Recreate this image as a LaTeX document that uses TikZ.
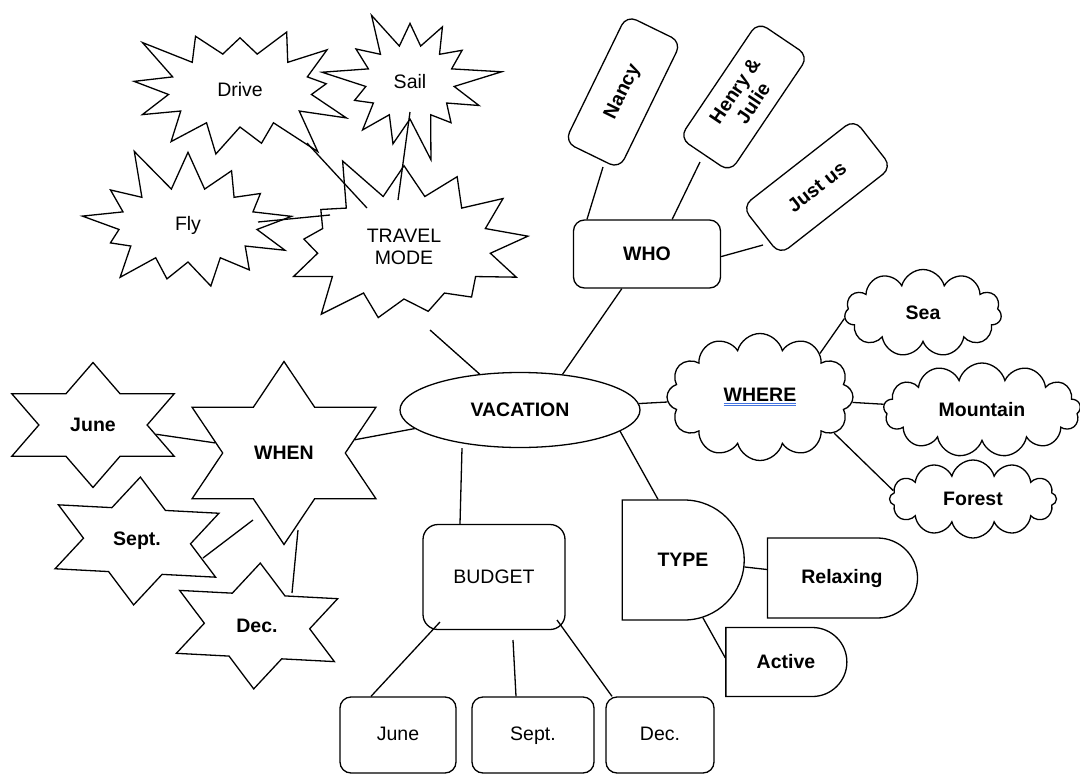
\documentclass[tikz,border=0pt]{standalone}
\usepackage{fontspec}
\setmainfont{Liberation Sans}
\usepackage{tikz}
\usetikzlibrary{shapes.geometric,shapes.symbols,shapes.misc}
\definecolor{spellblue}{RGB}{66,114,222}

\begin{document}
\begin{tikzpicture}[x=1pt,y=-1pt,line width=1.3pt,
  every node/.style={font=\fontsize{19.5}{22}\selectfont},
  btext/.style={font=\fontsize{19.5}{22}\selectfont\bfseries},
  box/.style={draw,rectangle,rounded corners=11pt,align=center,inner sep=0pt},
  slot/.style={box,minimum height=76pt,text height=14pt,text depth=4pt},
  burst/.style={draw,starburst,starburst points=13,starburst point height=48pt,inner sep=0pt,align=center},
  hexstar/.style={draw,star,star points=6,star point ratio=1.732,inner sep=0pt,transform shape},
  puff/.style={draw,cloud,cloud puffs=12,cloud ignores aspect,inner sep=0pt,btext},
  halfround/.style={draw,rounded rectangle,rounded rectangle west arc=none,inner sep=0pt,btext}]
\useasboundingbox (0,0) rectangle (1080,774);

% centre
\node[draw,ellipse,minimum width=240pt,minimum height=75pt,btext] (vacation) at (520,410) {VACATION};

% travel mode
\node[burst,minimum width=240pt,minimum height=170pt,random starburst=3] (drive) at (240,90) {Drive};
\node[burst,minimum width=185pt,minimum height=170pt,random starburst=9] (sail) at (410,82) {Sail};
\node[burst,minimum width=235pt,minimum height=170pt,random starburst=11] (fly) at (188,225) {Fly};
\node[burst,minimum width=270pt,minimum height=200pt,random starburst=5] (travel) at (404,247) {TRAVEL\\MODE};

\draw ([shift={(67,53)}]drive.center) -- ([shift={(-37,-39)}]travel.center);
\draw ([shift={(0,30)}]sail.center) -- ([shift={(-6,-47)}]travel.center);
\draw ([shift={(70,-3)}]fly.center) -- ([shift={(-74,-32)}]travel.center);
\draw ([shift={(26,83)}]travel.center) -- (vacation);

% who
\node[box,minimum width=147pt,minimum height=68pt,btext] (who) at (647,254) {WHO};
\node[box,minimum width=141pt,minimum height=61pt,rotate=64,btext] (nancy) at (623,92) {Nancy};
\node[box,minimum width=140pt,minimum height=61pt,rotate=56,btext] (henry) at (744,97) {Henry \&\\Julie};
\node[box,minimum width=142pt,minimum height=61pt,rotate=38,btext] (justus) at (817,187) {Just us};

\draw (vacation.40) -- (who.234);
\draw (who.150) -- ([shift={(-20,75)}]nancy.center);
\draw (who.54) -- ([shift={(-44,65)}]henry.center);
\draw (who.-2) -- ([shift={(-54,58)}]justus.center);

% where
\node[puff,minimum width=186pt,minimum height=127pt] (where) at (760,397)
  {\textcolor{spellblue}{\underline{\underline{\textcolor{black}{WHERE}}}}};
\node[puff,cloud puffs=11,minimum width=157pt,minimum height=87pt] (sea) at (923,313) {Sea};
\node[puff,cloud puffs=13,minimum width=197pt,minimum height=94pt] (mountain) at (982,410) {Mountain};
\node[puff,cloud puffs=12,minimum width=167pt,minimum height=78pt] (forest) at (973,499) {Forest};

\draw (vacation) -- (where);
\draw (where.36) -- (sea.184);
\draw (where) -- (mountain);
\draw (where.-26) -- (forest.174);

% when
\node[hexstar,minimum size=183pt,xscale=1.16] (when) at (284,453) {};
\node[btext] (whenlabel) at (when) {WHEN};
\node[hexstar,minimum size=125pt,xscale=1.5] (june) at (93,425) {};
\node[btext] (junelabel) at (june) {June};
\node[hexstar,minimum size=128pt,rotate=-3,xscale=1.45] (sept) at (137,541) {};
\node[btext] (septlabel) at (sept) {Sept.};
\node[hexstar,minimum size=126pt,rotate=-3,xscale=1.45] (dec) at (257,626) {};
\node[btext] (declabel) at (dec) {Dec.};

\draw (vacation.190) -- (when);
\draw (june) -- (when);
\draw ([shift={(66,17)}]sept.center) -- ([shift={(-31,67)}]when.center);
\draw ([shift={(35,-33)}]dec.center) -- ([shift={(14,77)}]when.center);

% budget
\node[box,rounded corners=15pt,minimum width=142pt,minimum height=105pt] (budget) at (494,577) {BUDGET};
\node[slot,minimum width=116pt] (june2) at (398,735) {June};
\node[slot,minimum width=122pt] (sept2) at (533,735) {Sept.};
\node[slot,minimum width=108pt] (dec2) at (660,735) {Dec.};

\draw ([xshift=-58pt]vacation.south) -- ([xshift=-34pt]budget.north);
\draw ([shift={(-54,45)}]budget.center) -- ([xshift=-27pt]june2.north);
\draw ([shift={(19,63)}]budget.center) -- ([xshift=-17pt]sept2.north);
\draw ([shift={(63,43)}]budget.center) -- ([xshift=-48pt]dec2.north);

% type
\node[halfround,minimum width=122pt,minimum height=120pt] (type) at (683,560) {TYPE};
\node[halfround,minimum width=150pt,minimum height=80pt] (relaxing) at (842,578) {Relaxing};
\node[halfround,minimum width=121pt,minimum height=69pt] (active) at (786,662) {Active};

\draw (vacation.-12) -- ([xshift=-25pt]type.north);
\draw (type) -- (relaxing);
\draw (type.-71) -- (active.176);
\end{tikzpicture}
\end{document}
